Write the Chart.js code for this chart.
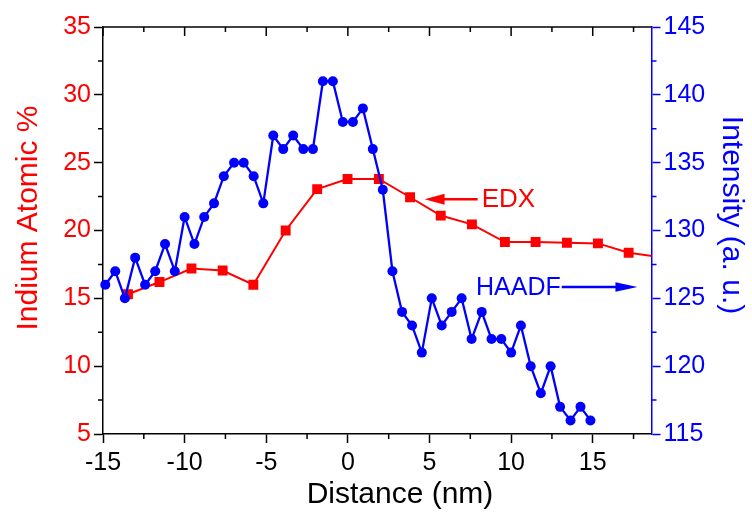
<!DOCTYPE html>
<html><head><meta charset="utf-8">
<script src="https://cdn.jsdelivr.net/npm/chart.js@4.4.1/dist/chart.umd.min.js"></script>
<style>html,body{margin:0;padding:0;background:#fff}#wrap{width:752px;height:513px;position:relative}</style>
</head><body><div id="wrap"><canvas id="c"></canvas></div>
<script>
// ---- data ----
const haadfX = [-14.86,-14.25,-13.66,-13.03,-12.42,-11.8,-11.2,-10.6,-10.0,-9.4,-8.8,-8.2,-7.6,-6.97,-6.38,-5.77,-5.18,-4.57,-3.96,-3.35,-2.73,-2.14,-1.53,-0.92,-0.31,0.31,0.92,1.53,2.14,2.73,3.32,3.93,4.53,5.14,5.75,6.36,6.97,7.58,8.2,8.8,9.4,10.0,10.6,11.2,11.82,12.42,13.0,13.64,14.25,14.86];
const haadfY = [126,127,125,128,126,127,129,127,131,129,131,132,134,135,135,134,132,137,136,137,136,136,141,141,138,138,139,136,133,127,124,123,121,125,123,124,125,122,124,122,122,121,123,120,118,120,117,116,117,116];
const edxX = [-13.47,-11.54,-9.58,-7.67,-5.79,-3.81,-1.88,-0.02,1.9,3.81,5.69,7.6,9.62,11.5,13.42,15.32,17.2,19.1];
const edxY = [15.3,16.2,17.2,17.05,16.0,20.0,23.05,23.8,23.8,22.45,21.1,20.45,19.15,19.15,19.1,19.05,18.36,18.05];
const xTicks = [-15,-10,-5,0,5,10,15];
const xMinorTicks = [-12.5,-7.5,-2.5,2.5,7.5,12.5,17.5];
const leftTicks = [5,10,15,20,25,30,35];
const leftMinorTicks = [7.5,12.5,17.5,22.5,27.5,32.5];
const rightTicks = [115,120,125,130,135,140,145];
const rightMinorTicks = [117.5,122.5,127.5,132.5,137.5,142.5];
const xTitle = 'Distance (nm)';
const leftTitle = 'Indium Atomic %';
const rightTitle = 'Intensity (a. u.)';
const edxLabel = 'EDX';
const haadfLabel = 'HAADF';

// ---- styles ----
const RED = '#ff0000', BLUE = '#0000ff', BLACK = '#000000';
const FONT = '"Liberation Sans", Arial, Helvetica, sans-serif';

const decor = {
  id: 'decor',
  afterDraw(chart) {
    const {ctx, chartArea: a, scales} = chart;
    const x = scales.x, yL = scales.yL, yR = scales.yR;
    ctx.save();
    ctx.lineWidth = 1.5;
    ctx.strokeStyle = BLACK;
    ctx.beginPath(); ctx.moveTo(a.left, a.top); ctx.lineTo(a.right, a.top); ctx.stroke();
    ctx.beginPath();
    xMinorTicks.forEach(v => { const p = x.getPixelForValue(v); ctx.moveTo(p, a.bottom); ctx.lineTo(p, a.bottom + 5); });
    xTicks.forEach(v => { const p = x.getPixelForValue(v); ctx.moveTo(p, a.top); ctx.lineTo(p, a.top + 9); });
    xMinorTicks.forEach(v => { const p = x.getPixelForValue(v); ctx.moveTo(p, a.top); ctx.lineTo(p, a.top + 5); });
    leftMinorTicks.forEach(v => { const p = yL.getPixelForValue(v); ctx.moveTo(a.left, p); ctx.lineTo(a.left - 5, p); });
    ctx.stroke();
    ctx.strokeStyle = BLUE;
    ctx.beginPath();
    rightMinorTicks.forEach(v => { const p = yR.getPixelForValue(v); ctx.moveTo(a.right, p); ctx.lineTo(a.right + 5, p); });
    ctx.stroke();

    ctx.textAlign = 'center'; ctx.textBaseline = 'middle';
    ctx.font = '30px ' + FONT;
    ctx.fillStyle = BLACK;
    ctx.fillText(xTitle, 400, 495);
    ctx.save(); ctx.translate(29, 218); ctx.rotate(-Math.PI / 2);
    ctx.fillStyle = RED; ctx.fillText(leftTitle, 0, 0); ctx.restore();
    ctx.save(); ctx.translate(731, 215); ctx.rotate(Math.PI / 2);
    ctx.fillStyle = BLUE; ctx.fillText(rightTitle, 0, 0); ctx.restore();

    const arrow = (x1, x2, y, color, headLen, headHalf) => {
      ctx.strokeStyle = color; ctx.fillStyle = color; ctx.lineWidth = 2.5;
      const dir = Math.sign(x2 - x1);
      ctx.beginPath(); ctx.moveTo(x1, y); ctx.lineTo(x2 - dir * headLen * 0.8, y); ctx.stroke();
      ctx.beginPath(); ctx.moveTo(x2, y); ctx.lineTo(x2 - dir * headLen, y - headHalf);
      ctx.lineTo(x2 - dir * headLen, y + headHalf); ctx.closePath(); ctx.fill();
    };
    const ey = yL.getPixelForValue(22.3);
    arrow(x.getPixelForValue(7.95), x.getPixelForValue(4.7), ey, RED, 20, 5.5);
    ctx.font = '26px ' + FONT; ctx.textAlign = 'left'; ctx.fillStyle = RED;
    ctx.fillText(edxLabel, x.getPixelForValue(8.2), ey + 1);
    const hy = yR.getPixelForValue(125.83);
    ctx.font = '25px ' + FONT; ctx.fillStyle = BLUE;
    ctx.fillText(haadfLabel, x.getPixelForValue(7.85), hy + 1);
    arrow(x.getPixelForValue(13.1), x.getPixelForValue(17.74), hy, BLUE, 22, 4.7);
    ctx.restore();
  }
};

const toPts = (xs, ys) => xs.map((v, i) => ({x: v, y: ys[i]}));
const tickFont = {family: FONT, size: 25};

new Chart(document.getElementById('c'), {
  type: 'scatter',
  data: {
    datasets: [
      {
        label: 'HAADF', data: toPts(haadfX, haadfY), yAxisID: 'yR', showLine: true,
        borderColor: BLUE, backgroundColor: BLUE, borderWidth: 2.3,
        pointRadius: 5, pointStyle: 'circle', pointBorderWidth: 0, order: 0, clip: false
      },
      {
        label: 'EDX', data: toPts(edxX, edxY), yAxisID: 'yL', showLine: true,
        borderColor: RED, backgroundColor: RED, borderWidth: 2,
        pointRadius: 7, pointStyle: 'rect', pointBorderWidth: 0, order: 1,
        clip: {left: 8, top: 8, bottom: 8, right: 0}
      }
    ]
  },
  options: {
    responsive: true, maintainAspectRatio: false, animation: false,
    layout: {padding: {top: 27, left: 0, right: 0, bottom: 0}},
    plugins: {legend: {display: false}, tooltip: {enabled: false}},
    scales: {
      x: {
        type: 'linear', position: 'bottom', min: -15, max: 18.6,
        afterBuildTicks: s => { s.ticks = xTicks.map(v => ({value: v})); },
        afterFit: s => { s.height = 79; },
        grid: {display: true, drawOnChartArea: false, drawTicks: true, tickLength: 9, tickWidth: 1.5, tickColor: BLACK},
        border: {display: true, color: BLACK, width: 1.5},
        ticks: {color: BLACK, font: tickFont, padding: 5, callback: v => String(v), maxRotation: 0, autoSkip: false}
      },
      yL: {
        type: 'linear', position: 'left', min: 5, max: 35,
        afterBuildTicks: s => { s.ticks = leftTicks.map(v => ({value: v})); },
        afterFit: s => { s.width = 103; },
        grid: {display: true, drawOnChartArea: false, drawTicks: true, tickLength: 9, tickWidth: 1.5, tickColor: BLACK},
        border: {display: true, color: BLACK, width: 1.5},
        ticks: {color: RED, font: tickFont, padding: 3, callback: v => String(v), autoSkip: false}
      },
      yR: {
        type: 'linear', position: 'right', min: 115, max: 145,
        afterBuildTicks: s => { s.ticks = rightTicks.map(v => ({value: v})); },
        afterFit: s => { s.width = 100.5; },
        grid: {display: true, drawOnChartArea: false, drawTicks: true, tickLength: 9, tickWidth: 1.5, tickColor: BLUE},
        border: {display: true, color: BLUE, width: 1.5},
        ticks: {color: BLUE, font: tickFont, padding: 3, callback: v => String(v), autoSkip: false}
      }
    }
  },
  plugins: [decor]
});
</script>
</body></html>
